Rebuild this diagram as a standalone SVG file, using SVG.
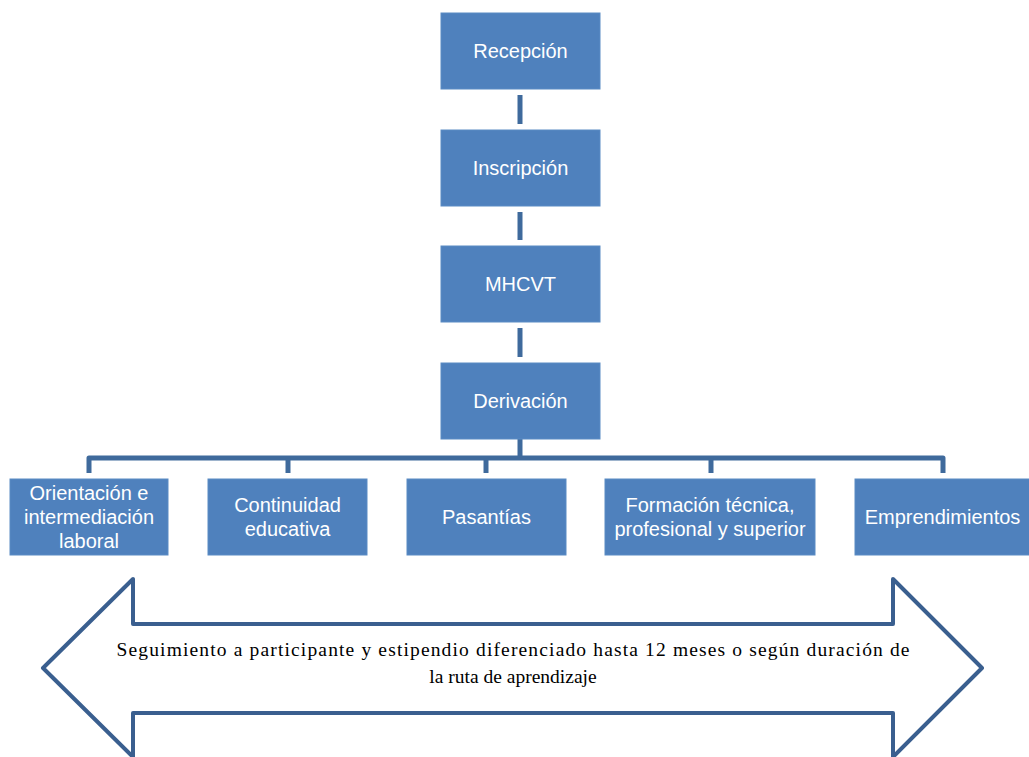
<svg xmlns="http://www.w3.org/2000/svg" width="1029" height="757" viewBox="0 0 1029 757">
<style>
.box{fill:#4F81BD;stroke:#5B8BC4;stroke-width:1}
.lbl{font-family:"Liberation Sans",Arial,sans-serif;font-size:20px;fill:#FFFFFF;text-anchor:middle}
.con{fill:none;stroke:#3F6A9C;stroke-width:5;stroke-linejoin:round}
.ser{font-family:"Liberation Serif","Times New Roman",serif;font-size:19.5px;fill:#000000;text-anchor:middle}
</style>
<rect width="1029" height="757" fill="#FFFFFF"/>
<g id="connectors">
<line class="con" x1="520" y1="95" x2="520" y2="124"/>
<line class="con" x1="520" y1="212" x2="520" y2="240"/>
<line class="con" x1="520" y1="328" x2="520" y2="357"/>
<line class="con" x1="520" y1="439" x2="520" y2="458"/>
<path class="con" d="M89,473 V458 H943 V473"/>
<line class="con" x1="288" y1="458" x2="288" y2="473"/>
<line class="con" x1="486" y1="458" x2="486" y2="473"/>
<line class="con" x1="711" y1="458" x2="711" y2="473"/>
</g>
<g id="n-recepcion"><rect class="box" x="441" y="13" width="159" height="76"/><text class="lbl" x="520.5" y="58">Recepción</text></g>
<g id="n-inscripcion"><rect class="box" x="441" y="130" width="159" height="76"/><text class="lbl" x="520.5" y="175">Inscripción</text></g>
<g id="n-mhcvt"><rect class="box" x="441" y="246" width="159" height="76"/><text class="lbl" x="520.5" y="291">MHCVT</text></g>
<g id="n-derivacion"><rect class="box" x="441" y="363" width="159" height="76"/><text class="lbl" x="520.5" y="408">Derivación</text></g>
<g id="n-orientacion"><rect class="box" x="10" y="479" width="158" height="76"/><text class="lbl" x="89" y="500">Orientación e</text><text class="lbl" x="89" y="524">intermediación</text><text class="lbl" x="89" y="548">laboral</text></g>
<g id="n-continuidad"><rect class="box" x="208" y="479" width="159" height="76"/><text class="lbl" x="287.5" y="512">Continuidad</text><text class="lbl" x="287.5" y="536">educativa</text></g>
<g id="n-pasantias"><rect class="box" x="407" y="479" width="159" height="76"/><text class="lbl" x="486.5" y="524">Pasantías</text></g>
<g id="n-formacion"><rect class="box" x="605" y="479" width="210" height="76"/><text class="lbl" x="710" y="512">Formación técnica,</text><text class="lbl" x="710" y="536">profesional y superior</text></g>
<g id="n-emprendimientos"><rect class="box" x="855" y="479" width="176" height="76"/><text class="lbl" x="942.5" y="524">Emprendimientos</text></g>
<g id="arrow">
<path d="M43,668 L133,579 V624 H893 V579 L982,668 L893,757 V713 H133 V757 Z" fill="#FFFFFF" stroke="#3A5F8F" stroke-width="4" stroke-linejoin="round"/>
<text class="ser" x="513" y="656" textLength="793" lengthAdjust="spacing">Seguimiento a participante y estipendio diferenciado hasta 12 meses o según duración de</text>
<text class="ser" x="513" y="683">la ruta de aprendizaje</text>
</g>
</svg>
